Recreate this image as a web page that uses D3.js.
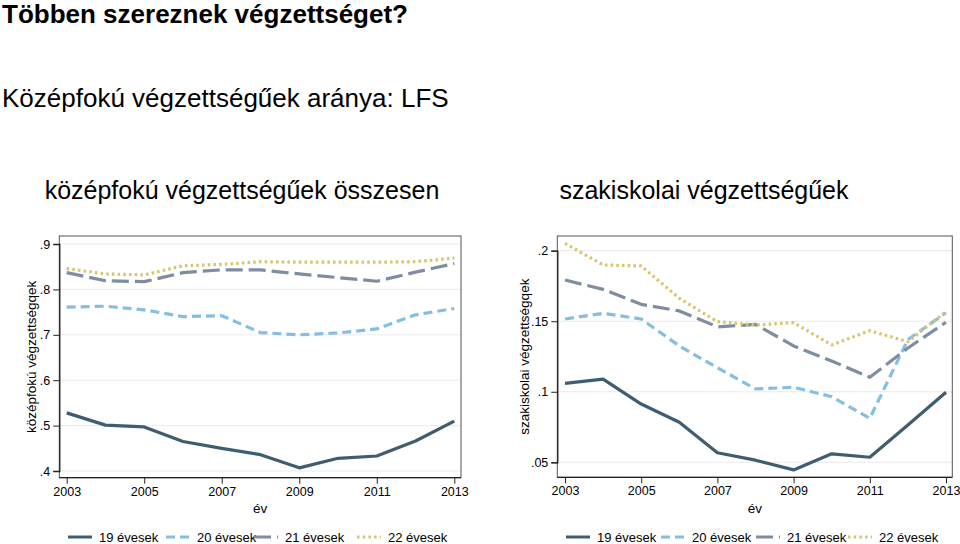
<!DOCTYPE html>
<html><head><meta charset="utf-8">
<script src="https://cdn.jsdelivr.net/npm/d3@7"></script>
<style>
html,body{margin:0;padding:0;background:#fff;}
svg{display:block;font-family:"Liberation Sans",Arial,sans-serif;}
</style></head>
<body>
<svg id="chart" width="960" height="544"></svg>
<script>
const years = [2003,2004,2005,2006,2007,2008,2009,2010,2011,2012,2013];
const seriesNames = ["19 évesek","20 évesek","21 évesek","22 évesek"];

// Left panel: középfokú végzettségűek összesen
const kozep19 = [0.528,0.501,0.497,0.465,0.450,0.436,0.407,0.428,0.433,0.466,0.510];
const kozep20 = [0.761,0.763,0.755,0.740,0.742,0.705,0.700,0.704,0.713,0.744,0.758];
const kozep21 = [0.837,0.819,0.817,0.837,0.843,0.843,0.834,0.826,0.818,0.838,0.857];
const kozep22 = [0.846,0.834,0.832,0.852,0.855,0.861,0.860,0.860,0.860,0.861,0.869];

// Right panel: szakiskolai végzettségűek
const szak19 = [0.106,0.109,0.0913,0.0784,0.0568,0.0515,0.0446,0.056,0.0536,0.0765,0.0997];
const szak20 = [0.1516,0.1556,0.1516,0.1325,0.117,0.102,0.1032,0.0965,0.0812,0.137,0.156];
const szak21 = [0.1792,0.1726,0.162,0.1573,0.146,0.1478,0.1325,0.1218,0.1103,0.131,0.1493];
const szak22 = [0.2052,0.1899,0.1892,0.1663,0.1497,0.1473,0.149,0.1332,0.1433,0.1355,0.1568];

const leftTicksY = [0.4,0.5,0.6,0.7,0.8,0.9];
const leftTickLabels = [".4",".5",".6",".7",".8",".9"];
const rightTicksY = [0.05,0.1,0.15,0.2];
const rightTickLabels = [".05",".1",".15",".2"];
const xTicks = [2003,2005,2007,2009,2011,2013];

const styles = [
  {color:"#3f5d72", dash:null, width:3.2},
  {color:"#84bfe3", dash:"9 5", width:3.2},
  {color:"#7e8ea2", dash:"17 6", width:3.2},
  {color:"#d8c56a", dash:"2.5 3.2", width:3.2}
];

const svg = d3.select("#chart");

svg.append("text").attr("x",2).attr("y",23).attr("font-size",26).attr("font-weight","bold")
  .attr("fill","#000").text("Többen szereznek végzettséget?");
svg.append("text").attr("x",2).attr("y",107).attr("font-size",26)
  .attr("fill","#000").text("Középfokú végzettségűek aránya: LFS");

function panel(cfg){
  const g = svg.append("g");
  const x = d3.scaleLinear().domain([2003,2013]).range(cfg.xr);
  const y = d3.scaleLinear().domain(cfg.yd).range(cfg.yr);
  const [fx0,fx1,fy0,fy1] = cfg.frame;
  // title
  g.append("text").attr("x",cfg.titleX).attr("y",199).attr("text-anchor","middle")
    .attr("font-size",25).attr("fill","#000").text(cfg.title);
  // grid
  g.selectAll(".grid").data(cfg.ticks).join("line")
    .attr("x1",fx0).attr("x2",fx1).attr("y1",d=>y(d)).attr("y2",d=>y(d))
    .attr("stroke","#ebebeb").attr("stroke-width",1);
  // frame
  g.append("rect").attr("x",fx0).attr("y",fy0).attr("width",fx1-fx0).attr("height",fy1-fy0)
    .attr("fill","none").attr("stroke","#555").attr("stroke-width",1);
  // y axis
  const ya = d3.axisLeft(y).tickValues(cfg.ticks).tickFormat((d,i)=>cfg.tickLabels[i]).tickSize(6).tickPadding(3);
  const yg = g.append("g").attr("transform",`translate(${fx0},0)`).call(ya);
  yg.select(".domain").attr("stroke","#222").attr("stroke-width",1.3);
  yg.selectAll(".tick line").attr("stroke","#222");
  yg.selectAll(".tick text").attr("font-size",12.5).attr("fill","#000").attr("font-family","Liberation Sans, Arial, sans-serif");
  // x axis
  const xa = d3.axisBottom(x).tickValues(xTicks).tickFormat(d3.format("d")).tickSize(6).tickPadding(3);
  const xg = g.append("g").attr("transform",`translate(0,${fy1})`).call(xa);
  xg.select(".domain").attr("d",`M${fx0},0H${fx1}`).attr("stroke","#222").attr("stroke-width",1.3);
  xg.selectAll(".tick line").attr("stroke","#222");
  xg.selectAll(".tick text").attr("font-size",12.5).attr("fill","#000").attr("font-family","Liberation Sans, Arial, sans-serif");
  // axis titles
  g.append("text").attr("transform",`translate(${cfg.yTitleX},${(fy0+fy1)/2}) rotate(-90)`)
    .attr("text-anchor","middle").attr("font-size",13.5).attr("fill","#000").text(cfg.yTitle);
  g.append("text").attr("x",(fx0+fx1)/2).attr("y",513).attr("text-anchor","middle")
    .attr("font-size",13.5).attr("fill","#000").text("év");
  // lines
  const line = d3.line().x((d,i)=>x(years[i])).y(d=>y(d));
  cfg.series.forEach((s,k)=>{
    const st = styles[k];
    g.append("path").datum(s).attr("d",line).attr("fill","none")
      .attr("stroke",st.color).attr("stroke-width",st.width)
      .attr("stroke-dasharray",st.dash).attr("stroke-linejoin","round");
  });
  // legend
  cfg.legendX.forEach((lx,k)=>{
    const st = styles[k];
    g.append("line").attr("x1",lx).attr("x2",lx+24).attr("y1",537).attr("y2",537)
      .attr("stroke",st.color).attr("stroke-width",3).attr("stroke-dasharray",st.dash);
    g.append("text").attr("x",lx+31).attr("y",541.5).attr("font-size",13)
      .attr("fill","#000").text(seriesNames[k]);
  });
}

panel({
  xr:[66.7,454.3], yd:[0.4,0.9], yr:[471,244], frame:[59.3,461,236,477.7],
  ticks:leftTicksY, tickLabels:leftTickLabels, title:"középfokú végzettségűek összesen", titleX:242,
  yTitle:"középfokú végzettségqek", yTitleX:36,
  series:[kozep19,kozep20,kozep21,kozep22], legendX:[68,166,254,357]
});
panel({
  xr:[565,946], yd:[0.05,0.2], yr:[462.3,250.7], frame:[557.3,952.3,236,477.3],
  ticks:rightTicksY, tickLabels:rightTickLabels, title:"szakiskolai végzettségűek", titleX:704,
  yTitle:"szakiskolai végzettségqek", yTitleX:529,
  series:[szak19,szak20,szak21,szak22], legendX:[566,661,756,848]
});
</script>
</body></html>
